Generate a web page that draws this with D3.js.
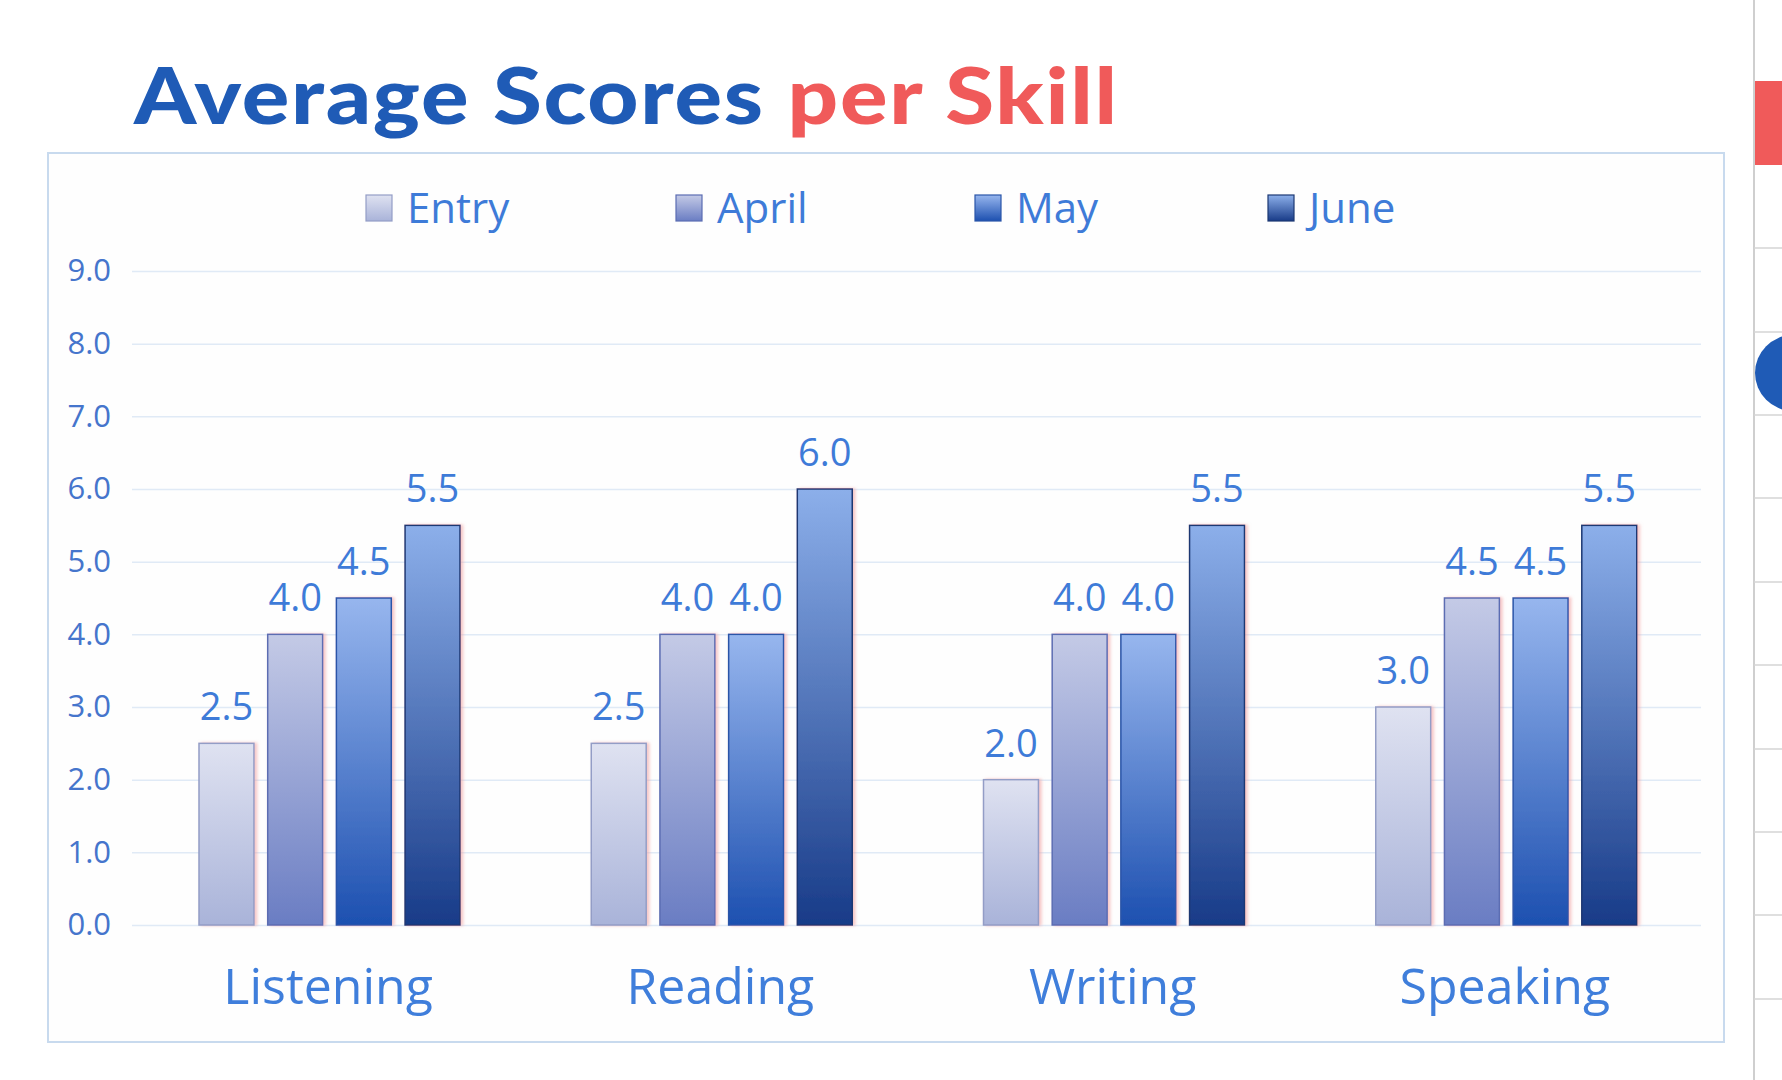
<!DOCTYPE html>
<html>
<head>
<meta charset="utf-8">
<script src="https://cdn.jsdelivr.net/npm/d3@7"></script>
<style>
  html, body { margin: 0; padding: 0; background: #ffffff; }
  svg { display: block; }
</style>
</head>
<body>
<svg id="chart" width="1782" height="1080"></svg>
<script>
// ---- data ----
const categories = ["Listening", "Reading", "Writing", "Speaking"];
const seriesNames = ["Entry", "April", "May", "June"];
const entryValues = [2.5, 2.5, 2.0, 3.0];
const aprilValues = [4.0, 4.0, 4.0, 4.5];
const mayValues   = [4.5, 4.0, 4.0, 4.5];
const juneValues  = [5.5, 6.0, 5.5, 5.5];
const yTickValues = [0, 1, 2, 3, 4, 5, 6, 7, 8, 9];
const titleMain = "Average Scores ";
const titleAccent = "per Skill";

const seriesValues = [entryValues, aprilValues, mayValues, juneValues];
const table = categories.map((c, i) => ({
  category: c,
  values: seriesNames.map((s, j) => ({ series: s, value: seriesValues[j][i] }))
}));

// ---- styles ----
const gradStops = {
  Entry: ["#dfe2f1", "#a9b3d9"],
  April: ["#c4cae6", "#6a7dc3"],
  May:   ["#97b6ee", "#1d50b0"],
  June:  ["#8cafea", "#183b88"]
};
const strokes = { Entry: "#939dc6", April: "#5b6db2", May: "#2a55a8", June: "#1c3772" };
const textBlue = "#3e7bd8";

const svg = d3.select("#chart");
const defs = svg.append("defs");
seriesNames.forEach(s => {
  const g = defs.append("linearGradient").attr("id", "g-" + s)
    .attr("x1", 0).attr("y1", 0).attr("x2", 0).attr("y2", 1);
  g.append("stop").attr("offset", "0%").attr("stop-color", gradStops[s][0]);
  g.append("stop").attr("offset", "100%").attr("stop-color", gradStops[s][1]);
});
const f = defs.append("filter").attr("id", "glow")
  .attr("x", "-20%").attr("y", "-5%").attr("width", "140%").attr("height", "110%");
f.append("feDropShadow").attr("dx", 2.5).attr("dy", 0).attr("stdDeviation", 1.6)
  .attr("flood-color", "#f09a9a").attr("flood-opacity", 0.55);

// ---- right side decoration ----
const deco = svg.append("g");
deco.append("line").attr("x1", 1754).attr("x2", 1754).attr("y1", 0).attr("y2", 1080)
  .attr("stroke", "#cfcfcf").attr("stroke-width", 2);
[248, 332, 415, 498, 582, 665, 749, 832, 915, 999].forEach(y => {
  deco.append("line").attr("x1", 1754).attr("x2", 1782).attr("y1", y).attr("y2", y)
    .attr("stroke", "#d4d4d4").attr("stroke-width", 1.5);
});
deco.append("rect").attr("x", 1755).attr("y", 81).attr("width", 27).attr("height", 84)
  .attr("fill", "#f05a5a");
deco.append("circle").attr("cx", 1793).attr("cy", 373).attr("r", 38).attr("fill", "#1f5bb6");

// ---- frame ----
svg.append("rect").attr("x", 48).attr("y", 153).attr("width", 1676).attr("height", 889)
  .attr("fill", "#fefefe").attr("stroke", "#c8daee").attr("stroke-width", 2);

// ---- title ----
const titleG = svg.append("g");
const title = titleG.append("text").attr("x", 0).attr("y", 0)
  .attr("font-family", "Lato, 'Noto Sans', sans-serif").attr("font-weight", 900)
  .attr("font-size", 78).attr("letter-spacing", 1.5);
title.append("tspan").attr("fill", "#1f5bb6").text(titleMain);
title.append("tspan").attr("fill", "#f05a5a").text(titleAccent);
{
  const w = title.node().getBBox().width;
  const sx = 986 / w;
  titleG.attr("transform", `translate(134,124) scale(${sx.toFixed(4)},1)`);
}

// ---- scales ----
const x0 = d3.scaleBand().domain(categories).range([132, 1701]).paddingInner(0).paddingOuter(0);
const x1 = d3.scaleBand().domain(seriesNames).range([67, 328]).paddingInner(0.2);
const y = d3.scaleLinear().domain([0, 9]).range([925, 271]);

// ---- grid ----
const yAxis = d3.axisLeft(y).tickValues(yTickValues).tickFormat(d3.format(".1f"))
  .tickSize(-(1701 - 132)).tickPadding(20);
const ga = svg.append("g").attr("transform", "translate(132,0)").call(yAxis);
ga.select(".domain").remove();
ga.selectAll(".tick line").attr("stroke", "#e0eaf6").attr("stroke-width", 1.5);
ga.selectAll(".tick text").attr("fill", "#4575cc")
  .attr("font-family", "'Open Sans', sans-serif").attr("font-size", 31)
  .attr("x", -21);

// ---- bars ----
const groups = svg.append("g").selectAll("g").data(table).join("g")
  .attr("transform", d => `translate(${x0(d.category)},0)`);
groups.selectAll("rect").data(d => d.values).join("rect")
  .attr("x", d => x1(d.series))
  .attr("y", d => y(d.value))
  .attr("width", x1.bandwidth())
  .attr("height", d => y(0) - y(d.value))
  .attr("fill", d => `url(#g-${d.series})`)
  .attr("stroke", d => strokes[d.series]).attr("stroke-width", 1.5)
  .attr("filter", "url(#glow)");
groups.selectAll("text.val").data(d => d.values).join("text").attr("class", "val")
  .attr("x", d => x1(d.series) + x1.bandwidth() / 2)
  .attr("y", d => y(d.value) - 23)
  .attr("text-anchor", "middle")
  .attr("font-family", "'Open Sans', sans-serif").attr("font-size", 38)
  .attr("fill", textBlue)
  .text(d => d3.format(".1f")(d.value));

// ---- category labels ----
svg.append("g").selectAll("text").data(categories).join("text")
  .attr("x", d => x0(d) + x0.bandwidth() / 2)
  .attr("y", 1004)
  .attr("text-anchor", "middle")
  .attr("font-family", "'Open Sans', sans-serif").attr("font-size", 50)
  .attr("fill", "#3f7edb")
  .text(d => d);

// ---- legend ----
const legendX = [366, 676, 975, 1268];
const lg = svg.append("g").selectAll("g").data(seriesNames).join("g")
  .attr("transform", (d, i) => `translate(${legendX[i]},0)`);
lg.append("rect").attr("x", 0).attr("y", 195).attr("width", 26).attr("height", 26)
  .attr("fill", d => `url(#g-${d})`).attr("stroke", d => strokes[d]).attr("stroke-width", 1.2);
lg.append("text").attr("x", 41).attr("y", 223)
  .attr("font-family", "'Open Sans', sans-serif").attr("font-size", 42)
  .attr("fill", textBlue)
  .text(d => d);
</script>
</body>
</html>
